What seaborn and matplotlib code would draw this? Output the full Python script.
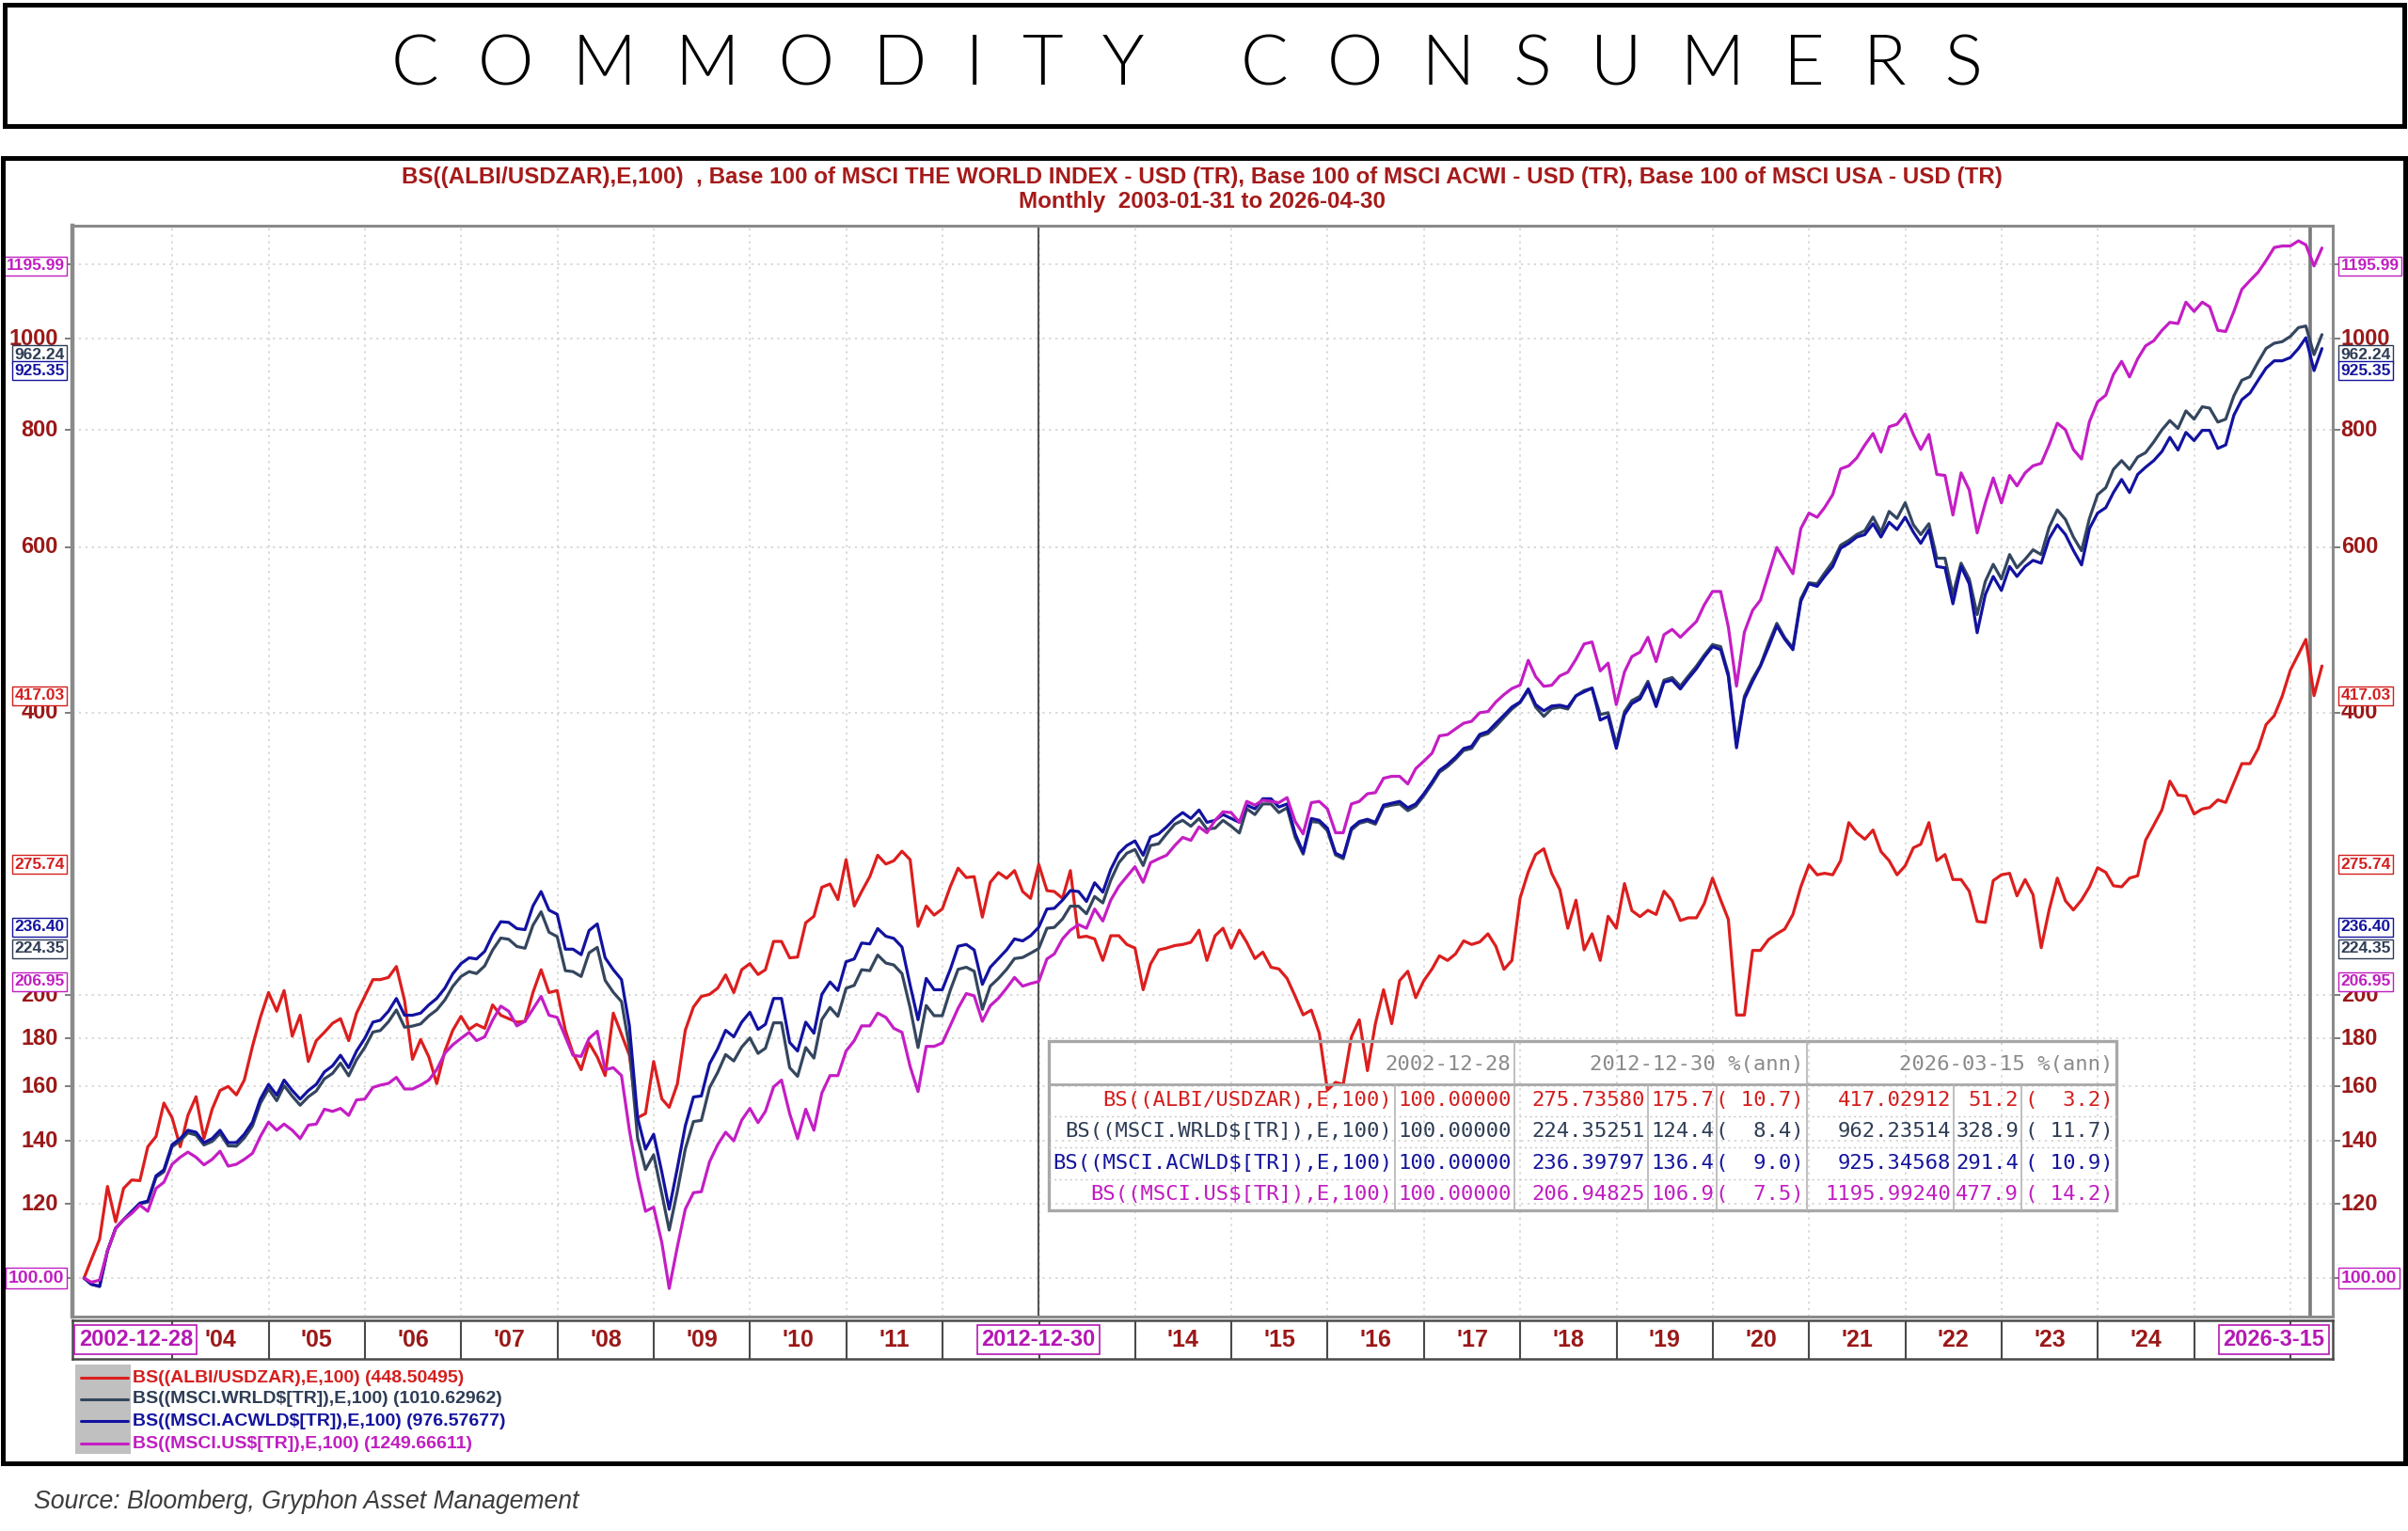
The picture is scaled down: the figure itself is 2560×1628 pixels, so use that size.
import numpy as np
import pandas as pd
import seaborn as sns
import matplotlib
matplotlib.use("Agg")
import matplotlib.pyplot as plt
from matplotlib import font_manager, transforms
from matplotlib.patches import Rectangle
from matplotlib.lines import Line2D
from matplotlib.ticker import NullLocator

sns.set_style("white")
plt.rcParams["text.parse_math"] = False
plt.rcParams["font.family"] = ["Liberation Sans", "DejaVu Sans"]

# ---------- data (monthly, 2003-01-31 .. 2026-04-30) ---------- #
albi_zar = [
    100.0, 104.7, 110.0, 125.2, 114.8, 124.6, 127.2, 127.0, 138.0, 141.5, 153.6, 148.2,
    138.0, 149.0, 156.0, 140.8, 151.3, 158.4, 160.0, 156.7, 162.5, 176.5, 189.5, 201.4,
    192.4, 202.4, 181.0, 190.5, 170.1, 179.0, 182.7, 186.8, 188.9, 179.0, 191.5, 199.5,
    207.9, 207.9, 209.0, 214.7, 197.5, 171.0, 179.5, 172.0, 161.1, 174.5, 183.6, 190.0,
    184.0, 186.3, 184.5, 195.4, 190.5, 188.9, 187.3, 187.7, 201.4, 213.0, 201.4, 202.4,
    183.6, 173.6, 166.7, 178.0, 172.0, 164.3, 191.5, 181.8, 172.7, 148.2, 149.7, 170.1,
    155.2, 152.0, 161.0, 183.6, 194.4, 199.5, 200.5, 203.6, 210.3, 201.4, 213.0, 216.2,
    210.5, 213.0, 228.3, 228.3, 219.3, 219.7, 239.0, 242.8, 260.7, 262.8, 253.0, 279.0,
    249.0, 258.0, 267.6, 282.0, 276.0, 278.2, 284.8, 279.0, 236.9, 249.0, 243.5, 247.2,
    261.4, 273.2, 267.0, 267.6, 242.3, 263.9, 270.3, 266.5, 271.6, 258.0, 253.7, 275.74,
    258.6, 258.0, 253.7, 271.6, 230.6, 231.2, 229.7, 217.9, 231.5, 231.5, 226.6, 224.6,
    202.8, 216.0, 223.6, 224.6, 226.0, 226.6, 227.8, 234.7, 217.9, 231.5, 235.8, 224.6,
    234.7, 227.8, 218.9, 222.4, 214.3, 213.4, 208.5, 199.5, 190.7, 192.9, 182.3, 158.6,
    161.6, 160.8, 180.6, 188.4, 166.3, 186.6, 202.8, 186.6, 207.4, 212.2, 198.9, 207.4,
    213.4, 220.4, 217.9, 221.4, 228.6, 226.6, 228.0, 232.6, 225.6, 213.2, 217.9, 253.9,
    270.7, 282.5, 286.5, 269.7, 259.2, 235.8, 252.6, 223.6, 232.6, 217.9, 242.8, 235.8,
    263.1, 246.2, 242.6, 246.4, 243.9, 258.2, 252.2, 240.3, 241.9, 241.9, 250.6, 266.6,
    252.7, 241.0, 190.6, 190.6, 223.3, 223.3, 229.4, 232.6, 235.3, 243.9, 261.0, 275.4,
    268.8, 269.8, 268.8, 278.3, 305.5, 298.1, 293.3, 300.0, 284.6, 278.3, 268.8, 274.8,
    287.2, 289.7, 305.5, 278.3, 282.5, 265.7, 265.7, 258.2, 239.8, 239.2, 265.0, 268.8,
    269.8, 255.3, 265.7, 256.0, 224.8, 246.6, 266.6, 252.2, 246.6, 252.7, 261.0, 273.5,
    270.4, 261.7, 261.0, 266.6, 268.2, 292.6, 303.6, 315.2, 338.2, 326.8, 326.1, 312.0,
    315.9, 317.0, 323.0, 321.0, 336.9, 353.0, 353.0, 366.1, 388.5, 397.0, 416.3, 443.9,
    461.7, 478.7, 417.03, 448.5,
]
msci_world = [
    100.0, 98.5, 98.0, 106.9, 113.0, 115.4, 117.6, 120.0, 120.5, 128.0, 129.8, 138.0,
    140.0, 142.8, 142.0, 138.6, 139.8, 142.6, 138.3, 138.2, 141.0, 145.2, 153.5, 159.0,
    154.5, 160.3, 156.2, 152.8, 156.0, 158.2, 163.0, 165.2, 169.4, 164.2, 170.8, 176.0,
    182.8, 183.5, 187.5, 193.0, 185.0, 185.5, 186.5, 190.2, 193.0, 197.8, 204.5, 209.5,
    212.0, 211.0, 215.0, 223.5, 230.2, 229.5, 225.5, 224.5, 237.5, 245.5, 233.5, 231.0,
    212.5, 212.0, 209.5, 222.0, 225.0, 207.5, 201.5, 197.0, 176.0, 141.0, 130.5, 135.3,
    123.0, 112.5, 123.8, 137.2, 146.8, 147.2, 159.5, 165.6, 173.0, 170.3, 176.2, 180.2,
    173.5, 175.7, 187.0, 187.0, 167.5, 164.0, 176.0, 171.5, 188.5, 194.2, 190.0, 203.5,
    205.0, 213.0, 212.5, 220.8, 216.5, 215.5, 211.0, 194.0, 176.0, 195.1, 190.3, 190.3,
    202.8, 213.2, 214.3, 212.2, 193.3, 204.6, 208.5, 213.2, 218.9, 219.5, 221.8, 224.35,
    235.8, 236.3, 241.2, 248.9, 248.9, 244.3, 254.9, 250.9, 265.2, 276.9, 283.4, 286.0,
    275.0, 288.8, 290.1, 297.2, 304.3, 307.2, 302.8, 308.6, 300.6, 301.4, 307.2, 302.8,
    297.8, 316.0, 311.6, 319.8, 319.8, 313.1, 316.8, 294.6, 282.8, 306.3, 305.7, 299.5,
    282.2, 279.6, 300.0, 305.0, 306.6, 304.3, 317.4, 318.9, 319.8, 314.6, 318.0, 326.3,
    335.9, 345.6, 350.6, 356.9, 364.6, 366.4, 377.4, 380.0, 386.8, 395.4, 403.6, 410.0,
    422.6, 405.5, 396.4, 404.0, 405.5, 403.6, 416.9, 422.3, 424.8, 398.2, 400.0, 370.0,
    401.0, 412.0, 416.5, 432.0, 408.6, 433.2, 436.0, 426.9, 437.5, 448.4, 460.8, 472.6,
    470.3, 440.2, 370.9, 416.5, 434.8, 449.6, 474.5, 498.0, 480.8, 468.8, 528.8, 550.0,
    548.6, 563.2, 578.9, 603.0, 610.2, 619.0, 625.0, 646.3, 622.7, 655.1, 644.0, 669.2,
    634.0, 619.0, 635.7, 584.1, 584.1, 534.4, 577.1, 555.2, 508.8, 551.9, 575.5, 555.2,
    589.4, 570.6, 582.7, 596.3, 589.4, 630.1, 657.6, 642.4, 615.3, 594.9, 644.0, 682.7,
    694.5, 726.3, 742.1, 726.3, 748.7, 756.7, 776.9, 800.3, 818.6, 803.0, 838.3, 821.5,
    846.8, 844.0, 815.6, 821.5, 870.0, 903.7, 911.6, 945.3, 976.9, 989.5, 993.3, 1006.1,
    1028.2, 1032.2, 962.24, 1010.6,
]
msci_acwi = [
    100.0, 98.5, 98.0, 106.9, 113.0, 115.4, 117.8, 120.2, 120.8, 128.5, 130.4, 138.7,
    140.8, 143.7, 143.0, 139.4, 140.8, 143.7, 139.4, 139.4, 142.3, 146.6, 155.1, 160.8,
    156.6, 162.5, 158.4, 155.1, 158.4, 160.8, 165.8, 168.3, 172.7, 167.5, 174.5, 180.0,
    187.3, 188.2, 192.4, 198.5, 190.5, 190.5, 191.5, 195.4, 198.5, 203.6, 210.9, 216.2,
    219.3, 218.7, 222.8, 232.0, 239.6, 239.2, 235.6, 235.0, 249.0, 258.0, 246.5, 244.0,
    224.0, 224.0, 221.0, 234.5, 238.3, 219.3, 213.0, 207.9, 185.6, 148.2, 137.2, 142.3,
    129.7, 118.4, 131.0, 145.2, 155.9, 156.3, 169.1, 175.5, 183.6, 180.7, 187.3, 191.9,
    184.0, 186.3, 198.5, 198.5, 178.2, 174.5, 187.3, 182.3, 200.5, 206.7, 202.4, 217.2,
    218.7, 227.4, 226.9, 235.6, 231.2, 230.0, 225.2, 205.1, 188.4, 208.5, 202.8, 202.8,
    213.4, 225.6, 226.6, 223.6, 205.5, 214.3, 218.9, 223.6, 229.7, 228.6, 231.5, 236.40,
    247.2, 247.6, 252.6, 258.6, 258.0, 251.8, 263.6, 257.6, 272.3, 283.4, 288.8, 292.1,
    282.0, 294.9, 297.2, 302.3, 308.6, 313.1, 308.6, 315.1, 305.7, 307.2, 311.6, 308.6,
    305.7, 318.9, 316.0, 323.9, 323.9, 317.4, 319.8, 297.2, 283.9, 308.6, 307.2, 301.4,
    283.4, 280.9, 301.4, 306.3, 308.0, 305.7, 318.9, 320.4, 321.8, 316.8, 319.8, 327.9,
    337.5, 347.2, 352.3, 358.6, 366.4, 368.3, 379.3, 381.9, 389.8, 397.6, 405.6, 410.6,
    424.0, 408.0, 401.8, 406.6, 407.4, 405.5, 416.9, 421.0, 424.8, 392.8, 396.4, 366.5,
    398.0, 409.0, 413.7, 429.4, 406.0, 431.0, 433.2, 423.9, 434.8, 445.5, 458.5, 470.3,
    466.8, 437.5, 367.0, 413.7, 432.0, 448.4, 470.3, 494.8, 479.0, 466.8, 525.6, 548.6,
    545.2, 558.6, 572.4, 598.6, 605.8, 615.3, 619.0, 635.7, 615.3, 638.0, 626.6, 646.0,
    622.7, 605.8, 626.6, 572.4, 570.6, 522.4, 572.4, 548.6, 486.6, 534.4, 558.6, 539.8,
    572.4, 558.6, 572.4, 581.1, 577.1, 613.0, 634.0, 619.0, 595.5, 574.6, 628.1, 652.5,
    661.3, 686.2, 708.6, 686.2, 717.4, 730.2, 742.1, 758.9, 785.6, 761.6, 795.3, 779.5,
    799.2, 799.2, 764.6, 771.2, 829.6, 861.6, 875.8, 903.7, 930.8, 947.8, 947.8, 955.3,
    976.9, 1002.9, 925.35, 976.6,
]
msci_usa = [
    100.0, 99.0, 99.5, 106.9, 113.0, 115.4, 117.2, 119.6, 117.8, 124.6, 126.5, 132.2,
    134.5, 136.2, 134.5, 132.0, 133.8, 136.5, 131.6, 132.2, 133.8, 135.8, 141.5, 146.6,
    143.7, 145.9, 143.7, 140.8, 145.5, 145.9, 151.3, 150.5, 151.6, 149.0, 154.8, 155.1,
    159.6, 160.5, 161.2, 163.6, 159.0, 159.0, 160.5, 162.5, 166.7, 173.6, 177.2, 180.0,
    182.7, 179.0, 180.7, 188.2, 194.8, 192.4, 185.6, 187.7, 193.4, 199.5, 190.5, 189.5,
    180.7, 172.7, 172.2, 180.0, 183.2, 166.7, 167.5, 164.3, 143.7, 128.5, 117.8, 119.0,
    109.1, 97.5, 108.0, 118.4, 123.3, 123.6, 133.0, 138.7, 143.0, 140.0, 147.3, 151.6,
    146.4, 150.5, 159.8, 162.5, 149.7, 140.8, 151.3, 143.7, 157.4, 164.3, 164.3, 174.5,
    179.0, 185.6, 185.6, 191.5, 189.5, 184.5, 182.7, 168.0, 158.0, 176.5, 176.5, 178.0,
    185.9, 193.8, 200.9, 199.8, 187.7, 195.0, 198.6, 203.6, 209.0, 204.6, 205.9, 206.95,
    218.7, 221.4, 229.7, 234.7, 237.9, 235.8, 247.2, 240.0, 252.6, 261.4, 267.6, 274.2,
    263.9, 276.9, 279.6, 282.0, 288.8, 294.6, 292.5, 302.3, 298.0, 307.2, 313.7, 313.1,
    305.7, 321.8, 318.9, 322.7, 321.8, 320.8, 324.8, 306.3, 297.2, 320.8, 321.8, 316.0,
    298.0, 298.0, 319.8, 321.8, 327.9, 328.8, 340.6, 342.2, 342.2, 335.9, 348.7, 355.2,
    362.2, 377.9, 379.1, 384.4, 389.8, 391.6, 400.0, 401.1, 410.6, 418.2, 424.4, 428.0,
    454.8, 437.0, 426.7, 427.8, 437.8, 441.7, 456.0, 473.4, 475.7, 443.1, 451.7, 408.0,
    442.0, 459.0, 464.0, 481.2, 453.4, 484.3, 490.6, 481.2, 490.6, 500.2, 521.2, 538.4,
    538.4, 493.8, 426.9, 487.4, 514.0, 527.2, 562.4, 599.8, 581.1, 562.4, 628.1, 652.5,
    645.8, 661.3, 682.7, 727.2, 732.7, 746.9, 771.2, 793.2, 757.8, 806.3, 811.3, 832.0,
    791.2, 762.6, 791.2, 717.4, 715.6, 649.4, 720.1, 690.5, 621.6, 668.9, 711.2, 668.9,
    715.6, 697.5, 720.1, 732.7, 737.1, 771.2, 813.3, 800.3, 762.6, 744.9, 816.6, 857.3,
    871.2, 916.6, 946.5, 910.9, 952.6, 983.2, 995.6, 1021.2, 1041.5, 1038.4, 1094.4, 1069.8,
    1094.4, 1082.0, 1021.2, 1018.5, 1069.8, 1129.2, 1153.8, 1177.8, 1211.7, 1251.3, 1255.9, 1255.9,
    1271.9, 1259.4, 1195.99, 1249.7,
]

series_keys = ["ALBI", "WRLD", "ACWLD", "US"]
legend_labels = ["BS((ALBI/USDZAR),E,100) (448.50495)",
                 "BS((MSCI.WRLD$[TR]),E,100) (1010.62962)",
                 "BS((MSCI.ACWLD$[TR]),E,100) (976.57677)",
                 "BS((MSCI.US$[TR]),E,100) (1249.66611)"]
line_colors = ["#DC1E1E", "#34465E", "#1212A0", "#C41EC4"]
text_colors = ["#D41E1E", "#2E3D55", "#14149E", "#C01EC0"]

y_ticks = [120, 140, 160, 180, 200, 400, 600, 800, 1000]
y_grid = [100, 120, 140, 160, 180, 200, 400, 600, 800, 1000, 1200]
box_values = [1195.99, 962.24, 925.35, 417.03, 275.74, 236.40, 224.35, 206.95, 100.00]
box_labels = ["1195.99", "962.24", "925.35", "417.03", "275.74", "236.40", "224.35", "206.95", "100.00"]
box_series = [3, 1, 2, 0, 0, 2, 1, 3, 3]

# year cells whose labels are not hidden behind the date boxes
band_years = [2004, 2005, 2006, 2007, 2008, 2009, 2010, 2011, 2014, 2015, 2016,
              2017, 2018, 2019, 2020, 2021, 2022, 2023, 2024]
band_labels = ["'04", "'05", "'06", "'07", "'08", "'09", "'10", "'11", "'14", "'15", "'16",
               "'17", "'18", "'19", "'20", "'21", "'22", "'23", "'24"]

table_header = ["2002-12-28", "2012-12-30 %(ann)", "2026-03-15 %(ann)"]
table_rows = ["BS((ALBI/USDZAR),E,100)", "BS((MSCI.WRLD$[TR]),E,100)",
              "BS((MSCI.ACWLD$[TR]),E,100)", "BS((MSCI.US$[TR]),E,100)"]
table_base = ["100.00000", "100.00000", "100.00000", "100.00000"]
table_mid = ["275.73580", "224.35251", "236.39797", "206.94825"]
table_mid_pct = ["175.7", "124.4", "136.4", "106.9"]
table_mid_ann = ["( 10.7)", "(  8.4)", "(  9.0)", "(  7.5)"]
table_end = ["417.02912", "962.23514", "925.34568", "1195.99240"]
table_end_pct = ["51.2", "328.9", "291.4", "477.9"]
table_end_ann = ["(  3.2)", "( 11.7)", "( 10.9)", "( 14.2)"]

dates = pd.date_range("2003-02-01", periods=len(albi_zar), freq="MS") - pd.Timedelta(days=1)
frames = []
for key, vals in zip(series_keys, [albi_zar, msci_world, msci_acwi, msci_usa]):
    frames.append(pd.DataFrame({"date": dates, "value": vals, "series": key}))
long_df = pd.concat(frames, ignore_index=True)

# ---------- fonts ----------------------------------------------- #
names = {f.name for f in font_manager.fontManager.ttflist}
NARROW = "Liberation Sans Narrow" if "Liberation Sans Narrow" in names else "Liberation Sans"
MONO = "DejaVu Sans Mono"
THIN = "Lato" if "Lato" in names else "DejaVu Sans"
TICK_RED = "#9A1818"
MAG = "#B418B4"

W, H = 2560, 1628
fig = plt.figure(figsize=(W / 100, H / 100), dpi=100)
fig.patch.set_facecolor("white")
renderer = fig.canvas.get_renderer()
PX = transforms.Affine2D().scale(1 / W, -1 / H).translate(0, 1) + fig.transFigure


def fit(t, target):
    w = t.get_window_extent(renderer).width
    t.set_fontsize(t.get_fontsize() * target / w)


# ---------- banner ---------------------------------------------- #
fig.add_artist(Rectangle((5, 5), 2551, 129, transform=PX, fill=False, ec="black", lw=3.6))
banner = fig.text(1262, 70, "", transform=PX, ha="center", va="center",
                  family=THIN, weight=300, fontsize=49, color="#000000")


def spaced(n):
    return (" " * n).join("COMMODITY") + " " * int(round(n * 2.6)) + (" " * n).join("CONSUMERS")


best = None
for n in range(1, 7):
    banner.set_text(spaced(n))
    banner.set_fontsize(49)
    w = banner.get_window_extent(renderer).width
    if best is None or abs(w - 1691) < best[0]:
        best = (abs(w - 1691), n)
banner.set_text(spaced(best[1]))
banner.set_fontsize(49)
fit(banner, 1691)

# ---------- chart frame & titles -------------------------------- #
fig.add_artist(Rectangle((3, 168), 2554, 1388, transform=PX, fill=False, ec="black", lw=3.6))
t1 = fig.text(1278, 188, "BS((ALBI/USDZAR),E,100)  , Base 100 of MSCI THE WORLD INDEX - USD (TR), "
              "Base 100 of MSCI ACWI - USD (TR), Base 100 of MSCI USA - USD (TR)",
              transform=PX, ha="center", va="center", family=NARROW, weight="bold",
              fontsize=16, color="#A51A1A")
fit(t1, 1696)
fig.text(1278, 214, "Monthly  2003-01-31 to 2026-04-30", transform=PX, ha="center",
         va="center", family=NARROW, weight="bold", fontsize=t1.get_fontsize(), color="#A51A1A")

# ---------- main axes ------------------------------------------- #
L, R, T, B = 77, 2480, 240, 1400
ax = fig.add_axes([L / W, 1 - B / H, (R - L) / W, (B - T) / H])
ax.set_yscale("log")
palette = dict(zip(series_keys, line_colors))
sns.lineplot(data=long_df, x="date", y="value", hue="series", hue_order=series_keys,
             palette=palette, linewidth=2.3, legend=False, estimator=None, ax=ax)
x0, x1 = pd.Timestamp("2002-12-18"), pd.Timestamp("2026-06-10")
ax.set_xlim(x0, x1)
ax.set_ylim(91.0, 1320)
ax.set_xlabel("")
ax.set_ylabel("")
year_starts = pd.to_datetime([f"{y}-01-01" for y in range(2004, 2027)])
ax.set_xticks(year_starts)
ax.set_yticks(y_grid)
ax.yaxis.set_minor_locator(NullLocator())
ax.xaxis.set_minor_locator(NullLocator())
ax.tick_params(axis="x", length=0, labelbottom=False)
ax.tick_params(axis="y", which="major", left=True, right=True, length=6, width=1.2,
               color="#666666", labelleft=False, labelright=False)
ax.grid(True, axis="both", color="#CFCFCF", ls=(0, (1.5, 3)), lw=1.1)
for s in ax.spines.values():
    s.set_color("#8A8A8A")
    s.set_linewidth(2.2)
ax.spines["left"].set_linewidth(3.2)

ax.axvline(pd.Timestamp("2012-12-30"), color="#555555", lw=1.5, zorder=1.6)
ax.axvline(pd.Timestamp("2026-03-15"), color="#7A7A7A", lw=2.6, zorder=1.6)

left_tr = transforms.blended_transform_factory(ax.transAxes, ax.transData)
for v in y_ticks:
    ax.text(-0.0063, v, str(v), transform=left_tr, ha="right", va="center",
            fontsize=17, weight="bold", color=TICK_RED, clip_on=False)
    ax.text(1.0036, v, str(v), transform=left_tr, ha="left", va="center",
            fontsize=17, weight="bold", color=TICK_RED, clip_on=False)

# value boxes: size the font so that "1195.99" is about 62 px wide
probe = fig.text(0, 0, "1195.99", family=NARROW, weight="bold", fontsize=14)
fit(probe, 62)
box_fs = probe.get_fontsize()
probe.remove()
for v, lab, si in zip(box_values, box_labels, box_series):
    c = text_colors[si]
    fs = box_fs * 1.12 if lab == "100.00" else box_fs
    for xa, ha in [(-0.0035, "right"), (1.0035, "left")]:
        ax.text(xa, v, lab, transform=left_tr, ha=ha, va="center", fontsize=fs,
                family=NARROW, weight="bold", color=c, clip_on=False, zorder=6,
                bbox=dict(boxstyle="square,pad=0.14", fc="white", ec=c, lw=1.0))

# ---------- year band ------------------------------------------- #
bx = fig.add_axes([L / W, 1 - 1445 / H, (R - L) / W, 41 / H])
bx.set_xlim(x0, x1)
bx.set_ylim(0, 1)
bx.set_xticks([])
bx.set_yticks([])
for s in bx.spines.values():
    s.set_color("#4A4A4A")
    s.set_linewidth(1.8)
bx.vlines(year_starts, 0, 1, color="#4A4A4A", lw=1.5)
for y, lab in zip(band_years, band_labels):
    bx.text(pd.Timestamp(f"{y}-07-02"), 0.5, lab, ha="center", va="center",
            fontsize=18, weight="bold", color=TICK_RED)
box_kw = dict(boxstyle="square,pad=0.18", fc="white", ec=MAG, lw=1.2)
bx.text(0.0028, 0.5, "2002-12-28", transform=bx.transAxes, ha="left", va="center",
        fontsize=17, weight="bold", color=MAG, bbox=box_kw, zorder=5)
bx.text(pd.Timestamp("2012-12-30"), 0.5, "2012-12-30", ha="center", va="center",
        fontsize=17, weight="bold", color=MAG, bbox=box_kw, zorder=5)
bx.text(0.9965, 0.5, "2026-3-15", transform=bx.transAxes, ha="right", va="center",
        fontsize=17, weight="bold", color=MAG, bbox=box_kw, zorder=5)

# ---------- stats table ----------------------------------------- #
tl, tr_, tt, tb = 1115, 2250, 1107, 1287
hdr_bot = 1153
row_y = [1170, 1203, 1237, 1270]
col_ends = [1483, 1610, 1752, 1825, 1921, 2077, 2149, tr_]
GRID = "#B4B4B4"
fig.add_artist(Rectangle((tl, tt), tr_ - tl, tb - tt, transform=PX, fill=False, ec="#A8A8A8", lw=2.4))
fig.add_artist(Line2D([tl, tr_], [hdr_bot, hdr_bot], transform=PX, color="#A8A8A8", lw=2.0))
for xc in [1610, 1921]:
    fig.add_artist(Line2D([xc, xc], [tt, hdr_bot], transform=PX, color=GRID, lw=1.2))
for xc in col_ends[:-1]:
    fig.add_artist(Line2D([xc, xc], [hdr_bot, tb], transform=PX, color=GRID, lw=1.2))
for yb in [1187, 1220, 1254]:
    fig.add_artist(Line2D([tl, tr_], [yb, yb], transform=PX, color="#C8C8C8", lw=1.0,
                          ls=(0, (1.5, 2.5))))
for xe, txt in zip([1610, 1921, tr_], table_header):
    fig.text(xe - 4, 1132, txt, transform=PX, ha="right", va="center", family=MONO,
             fontsize=16, color="#8A8A8A")
for i, yc in enumerate(row_y):
    cells = [table_rows[i], table_base[i], table_mid[i], table_mid_pct[i], table_mid_ann[i],
             table_end[i], table_end_pct[i], table_end_ann[i]]
    for xe, txt in zip(col_ends, cells):
        fig.text(xe - 3, yc, txt, transform=PX, ha="right", va="center", family=MONO,
                 fontsize=16, color=text_colors[i])

# ---------- legend ---------------------------------------------- #
fig.add_artist(Rectangle((80, 1451), 59, 95, transform=PX, fc="#C0C0C0", ec="none"))
leg_y = [1465, 1488, 1511, 1535]
leg_fs = None
for i, (yc, lab) in enumerate(zip(leg_y, legend_labels)):
    fig.add_artist(Line2D([86, 136], [yc, yc], transform=PX, color=line_colors[i], lw=2.2))
    t = fig.text(141, yc, lab, transform=PX, ha="left", va="center", family=NARROW,
                 weight="bold", fontsize=13, color=text_colors[i])
    if leg_fs is None:
        fit(t, 351)
        leg_fs = t.get_fontsize()
    else:
        t.set_fontsize(leg_fs)

src = fig.text(36, 1597, "Source: Bloomberg, Gryphon Asset Management", transform=PX,
               ha="left", va="center", style="italic", fontsize=18, color="#3C3C3C")
fit(src, 580)

fig.savefig("out.png", dpi=100, facecolor="white")
